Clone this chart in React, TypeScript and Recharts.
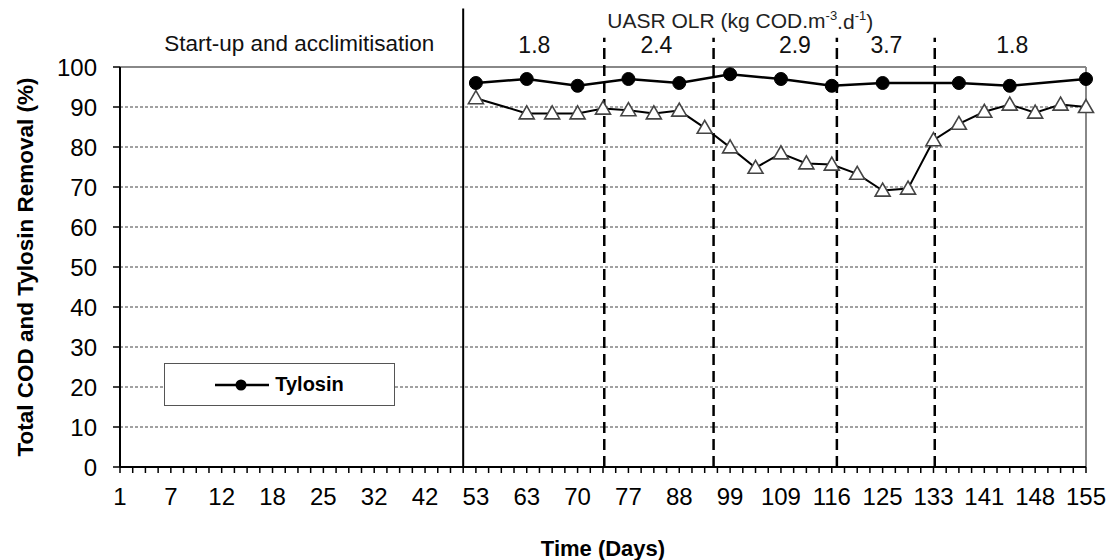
import React from 'react'
import {
    LineChart,
    Line,
    XAxis,
    YAxis,
    CartesianGrid,
    ReferenceLine,
    ReferenceDot,
    Legend,
} from 'recharts'

// labelled days on the category axis (one label every 4 sampling slots)
const dayLabels = ['1', '7', '12', '18', '25', '32', '42', '53', '63', '70', '77', '88', '99', '109', '116', '125', '133', '141', '148', '155']
const slotCount = 77

const tylosinSlots = [28, 32, 36, 40, 44, 48, 52, 56, 60, 66, 70, 76]
const tylosinRemoval = [96, 97, 95.3, 97, 96, 98.2, 97, 95.3, 96, 96, 95.3, 97]

const codSlots = [28, 32, 34, 36, 38, 40, 42, 44, 46, 48, 50, 52, 54, 56, 58, 60, 62, 64, 66, 68, 70, 72, 74, 76]
const codRemoval = [92.2, 88.4, 88.4, 88.4, 89.6, 89.2, 88.4, 89.1, 84.8, 79.9, 74.8, 78.4, 75.9, 75.6, 73.3, 69.1, 69.6, 81.7, 85.8, 88.8, 90.6, 88.6, 90.6, 90]

// OLR phases
const startupEnd = 27
const olrBounds = [38.1, 46.7, 56.4, 64.1]
const olrValues = ['1.8', '2.4', '2.9', '3.7', '1.8']
const olrLabelSlots = [32.6, 42.2, 53.1, 60.3, 70.2]

const data = Array.from({ length: slotCount }, (_, slot) => {
    const c = codSlots.indexOf(slot)
    const t = tylosinSlots.indexOf(slot)
    return {
        slot,
        cod: c >= 0 ? codRemoval[c] : null,
        tylosin: t >= 0 ? tylosinRemoval[t] : null,
    }
})

const slotTicks = Array.from({ length: slotCount }, (_, i) => i)
const font = '"Liberation Sans", Arial, sans-serif'

const Triangle = (props: any) => {
    const { cx, cy, value } = props
    if (value == null || cy == null || isNaN(cy)) return null
    const pts = `${cx},${cy - 7.5} ${cx - 7.5},${cy + 5.5} ${cx + 7.5},${cy + 5.5}`
    return <polygon key={props.key} points={pts} fill="#fff" stroke="#444" strokeWidth={1.6} />
}

const annot = (text: string, size: number, fill = '#000') => (props: any) => {
    const vb = props.viewBox
    return (
        <text
            x={vb.x + vb.width / 2}
            y={vb.y + vb.height / 2}
            textAnchor="middle"
            dominantBaseline="central"
            fontSize={size}
            fill={fill}
            fontFamily={font}
        >
            {text}
        </text>
    )
}

const olrTitle = (props: any) => {
    const vb = props.viewBox
    return (
        <text
            x={vb.x + vb.width / 2}
            y={vb.y + vb.height / 2}
            textAnchor="middle"
            dominantBaseline="central"
            fontSize={21}
            fill="#222"
            fontFamily={font}
        >
            UASR OLR (kg COD.m
            <tspan dy={-6} fontSize={13}>-3</tspan>
            <tspan dy={6} fontSize={21}>.d</tspan>
            <tspan dy={-6} fontSize={13}>-1</tspan>
            <tspan dy={6} fontSize={21}>)</tspan>
        </text>
    )
}

const YTitle = (props: any) => {
    const { x, y, height } = props.viewBox
    const cx = x + 17
    const cy = y + height / 2
    return (
        <text
            x={cx}
            y={cy}
            transform={`rotate(-90 ${cx} ${cy})`}
            textAnchor="middle"
            dominantBaseline="central"
            fontSize={22.5}
            fontWeight="bold"
            fill="#000"
            fontFamily={font}
        >
            Total COD and Tylosin Removal (%)
        </text>
    )
}

const LegendBox = () => (
    <div style={{ display: 'flex', alignItems: 'center', justifyContent: 'center', height: '100%' }}>
        <svg width={54} height={14}>
            <line x1={0} y1={7} x2={54} y2={7} stroke="#000" strokeWidth={2.5} />
            <circle cx={26} cy={7} r={5.5} fill="#000" />
        </svg>
        <span style={{ marginLeft: 6, fontWeight: 'bold', fontSize: 20, color: '#000' }}>Tylosin</span>
    </div>
)

const App = () => {
    return (
        <div style={{ width: 1106, height: 552, fontFamily: font }}>
            <LineChart
                width={1106}
                height={552}
                data={data}
                margin={{ top: 59, right: 28, bottom: 0, left: 0 }}
            >
                <CartesianGrid vertical={false} stroke="#444" strokeDasharray="3 2" />
                <XAxis
                    dataKey="slot"
                    type="number"
                    domain={[0, slotCount - 1]}
                    ticks={slotTicks}
                    interval={0}
                    tickFormatter={(v: number) => (v % 4 === 0 ? dayLabels[v / 4] : '')}
                    height={93}
                    tickSize={6}
                    tickMargin={15}
                    stroke="#000"
                    axisLine={{ stroke: '#000', strokeWidth: 2 }}
                    tickLine={{ stroke: '#000', strokeWidth: 1.5 }}
                    tick={{ fontSize: 24, fill: '#000', fontFamily: font }}
                    label={{ value: 'Time (Days)', position: 'insideBottom', offset: 4, fontSize: 22, fontWeight: 'bold', fill: '#000' }}
                />
                <YAxis
                    domain={[0, 100]}
                    ticks={[0, 10, 20, 30, 40, 50, 60, 70, 80, 90, 100]}
                    width={112}
                    tickSize={7}
                    tickMargin={16}
                    axisLine={{ stroke: '#000', strokeWidth: 2 }}
                    tickLine={{ stroke: '#000', strokeWidth: 1.5 }}
                    tick={{ fontSize: 24, fill: '#000', fontFamily: font }}
                    label={<YTitle />}
                />
                <ReferenceLine y={100} stroke="#888" strokeWidth={2} />
                <ReferenceLine x={slotCount - 1} stroke="#888" strokeWidth={2} />
                <ReferenceLine
                    segment={[{ x: startupEnd, y: 0 }, { x: startupEnd, y: 114.6 }]}
                    stroke="#000"
                    strokeWidth={2}
                    ifOverflow="visible"
                />
                {olrBounds.map((b) => (
                    <ReferenceLine
                        key={b}
                        segment={[{ x: b, y: 0 }, { x: b, y: 107.3 }]}
                        stroke="#000"
                        strokeWidth={2.5}
                        strokeDasharray="11 6"
                        ifOverflow="visible"
                    />
                ))}
                <ReferenceDot x={48.8} y={111.6} r={0} ifOverflow="visible" label={olrTitle} />
                <ReferenceDot x={14.1} y={105.9} r={0} ifOverflow="visible" label={annot('Start-up and acclimitisation', 22.5, '#111')} />
                {olrValues.map((v, i) => (
                    <ReferenceDot
                        key={i}
                        x={olrLabelSlots[i]}
                        y={105.5}
                        r={0}
                        ifOverflow="visible"
                        label={annot(v, 23, '#111')}
                    />
                ))}
                <Legend
                    layout="horizontal"
                    verticalAlign="middle"
                    align="center"
                    content={<LegendBox />}
                    wrapperStyle={{
                        left: 156,
                        top: 355,
                        width: 231,
                        height: 43,
                        border: '1.5px solid #555',
                        background: '#fff',
                        boxSizing: 'border-box',
                    }}
                />
                <Line
                    type="linear"
                    dataKey="cod"
                    name="Total COD"
                    stroke="#000"
                    strokeWidth={2}
                    connectNulls
                    dot={<Triangle />}
                    activeDot={false}
                    legendType="none"
                    isAnimationActive={false}
                />
                <Line
                    type="linear"
                    dataKey="tylosin"
                    name="Tylosin"
                    stroke="#000"
                    strokeWidth={2.5}
                    connectNulls
                    dot={{ r: 6.5, fill: '#000', stroke: '#000', strokeWidth: 1 }}
                    activeDot={false}
                    isAnimationActive={false}
                />
            </LineChart>
        </div>
    )
}

export default App
